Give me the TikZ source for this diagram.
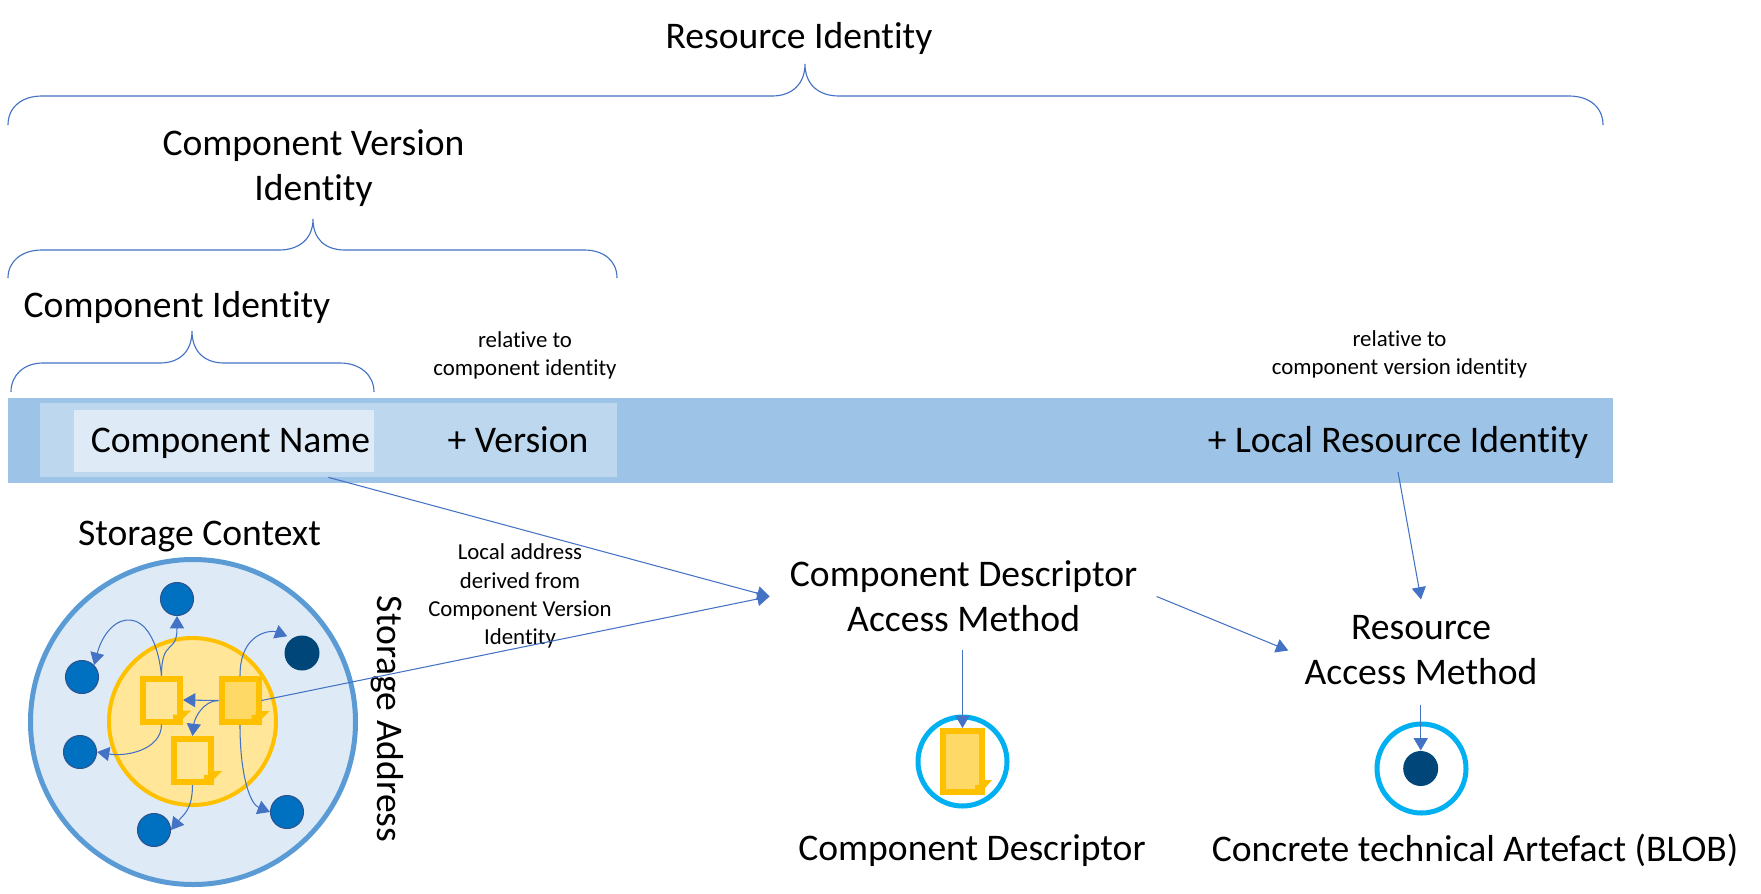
\documentclass[tikz,border=0pt]{standalone}
\usepackage{fontspec}
\setmainfont{Carlito}[Ligatures=NoCommon]
\usetikzlibrary{arrows.meta}

\newcommand{\unitpx}{0.02cm}
\definecolor{barblue}{HTML}{9DC3E6}
\definecolor{midblue}{HTML}{BDD7EE}
\definecolor{paleblue}{HTML}{DEEBF7}
\definecolor{ringblue}{HTML}{5B9BD5}
\definecolor{lineblue}{HTML}{4472C4}
\definecolor{cyanring}{HTML}{00B0F0}
\definecolor{dotblue}{HTML}{0070C0}
\definecolor{dotedge}{HTML}{2F528F}
\definecolor{dotdeep}{HTML}{004679}
\definecolor{docline}{HTML}{FFC000}
\definecolor{docpale}{HTML}{FFE699}
\definecolor{docdeep}{HTML}{FFD966}

\tikzset{
  bigtext/.style={inner sep=0pt, align=center, font=\fontsize{21.4pt}{25.6pt}\selectfont},
  smalltext/.style={inner sep=0pt, align=center, font=\fontsize{13pt}{16pt}\selectfont},
  brace/.style={draw=lineblue, line width=0.65pt},
  flow/.style={draw=lineblue, line width=0.6pt, -{Triangle[length=7pt,width=8pt]}},
  band/.style={rectangle, inner sep=0pt},
  dot/.style={circle, inner sep=0pt, minimum size=33*\unitpx, fill=dotblue, draw=dotedge, line width=0.6pt},
  sheet/.style={rectangle, inner sep=0pt, draw=docline, line width=6*\unitpx, fill=docpale, minimum width=37*\unitpx, minimum height=43*\unitpx},
  halo/.style={circle, inner sep=0pt, draw=cyanring, line width=5*\unitpx, minimum size=89*\unitpx}
}

\begin{document}
\begin{tikzpicture}[x=0.02cm, y=-0.02cm]
\useasboundingbox (0,0) rectangle (1761,893);

% Drawing braces
\draw[brace] (8,125) .. controls (8,107) and (22,96) .. (42,96) -- (772,96) .. controls (792,96) and (805,84) .. (805,64) .. controls (805,84) and (818,96) .. (839,96) -- (1569,96) .. controls (1589,96) and (1603,107) .. (1603,125);
\draw[brace] (8,278) .. controls (8,261) and (22,250) .. (42,250) -- (279,250) .. controls (299,250) and (313,239) .. (313,219) .. controls (313,239) and (325,250) .. (345,250) -- (584,250) .. controls (604,250) and (617,261) .. (617,278);
\draw[brace] (11,392) .. controls (11,375) and (24,363) .. (43,363) -- (160,363) .. controls (179,363) and (192,352) .. (192,331) .. controls (192,352) and (205,363) .. (224,363) -- (340,363) .. controls (360,363) and (374,375) .. (374,392);

% Drawing labels over the braces
\node[bigtext] (residlabel) at (799,38) {Resource Identity};
\node[bigtext] (verlabel) at (313.5,168.4) {Component Version\\Identity};
\node[bigtext] (complabel) at (177,307.5) {Component Identity};
\node[smalltext] (relcomp) at (525,355) {relative to\\component identity};
\node[smalltext] (relver) at (1399.5,354) {relative to\\component version identity};

% Drawing identity bar
\node[band, fill=barblue, minimum width=1605*\unitpx, minimum height=85*\unitpx] (bar) at (810.5,440.5) {};
\node[band, fill=midblue, minimum width=577*\unitpx, minimum height=74*\unitpx] (midbox) at (328.5,440) {};
\node[band, fill=paleblue, minimum width=300*\unitpx, minimum height=62*\unitpx] (namebox) at (224,441) {};
\node[bigtext] (nametext) at (230.5,443.5) {Component Name};
\node[bigtext] (versiontext) at (518,440) {+ Version};
\node[bigtext, inner sep=13*\unitpx] (localtext) at (1398,442.5) {+ Local Resource Identity};

% Drawing storage context
\node[bigtext] (storelabel) at (199.5,536.4) {Storage Context};
\node[bigtext, rotate=-90] (addrlabel) at (387,719) {Storage Address};
\node[circle, inner sep=0pt, fill=paleblue, draw=ringblue, line width=5*\unitpx, minimum size=325*\unitpx] (outerring) at (193,722) {};
\node[circle, inner sep=0pt, fill=docpale, draw=docline, line width=4*\unitpx, minimum size=167*\unitpx] (innerring) at (192.5,721.5) {};

% Drawing artefact dots
\node[dot] (dottop) at (177,599) {};
\node[dot] (dotleft) at (82,677) {};
\node[dot] (dotlow) at (80,752) {};
\node[dot] (dotbot) at (154,830) {};
\node[dot] (dotright) at (287,812) {};
\node[dot, fill=dotdeep, draw=none, minimum size=35*\unitpx] (dotdark) at (302,653) {};

% Drawing documents
\node[sheet] (doca) at (161.5,700) {};
\node[sheet, fill=docdeep] (docb) at (240,700.5) {};
\node[sheet] (docc) at (192.5,760.5) {};
\fill[docline] ([shift={(-10,-5)}]doca.south east) -- ([shift={(-10,-10)}]doca.south east) -- ([shift={(-6,-10)}]doca.south east) -- ([shift={(-6,-14)}]doca.south east) -- ([shift={(8,-14)}]doca.south east) -- ([shift={(-6,0)}]doca.south east) -- cycle;
\fill[docline] ([shift={(-10,-5)}]docb.south east) -- ([shift={(-10,-10)}]docb.south east) -- ([shift={(-6,-10)}]docb.south east) -- ([shift={(-6,-14)}]docb.south east) -- ([shift={(8,-14)}]docb.south east) -- ([shift={(-6,0)}]docb.south east) -- cycle;
\fill[docline] ([shift={(-10,-5)}]docc.south east) -- ([shift={(-10,-10)}]docc.south east) -- ([shift={(-6,-10)}]docc.south east) -- ([shift={(-6,-14)}]docc.south east) -- ([shift={(8,-14)}]docc.south east) -- ([shift={(-6,0)}]docc.south east) -- cycle;

% Drawing arrows inside the context
\draw[flow] (doca.north) .. controls +(-8,-75) and +(15,-55) .. (dotleft.north east);
\draw[flow] (doca.north) .. controls +(0,-38) and +(0,39) .. (dottop.south);
\draw[flow] (docb.north) .. controls +(0,-45) and +(-15,-6) .. ([shift={(-2,-4)}]dotdark.north west);
\draw[flow] (docb.west) -- (doca.east);
\draw[flow] (docb.west) .. controls +(-15,0) and +(2,-18) .. (docc.north);
\draw[flow] (doca.south) .. controls +(0,25) and +(30,5) .. (dotlow.east);
\draw[flow] (docb.south) .. controls +(0,50) and +(-20,-8) .. (dotright.west);
\draw[flow] (docc.south) .. controls +(0,25) and +(12,-15) .. (dotbot.east);

% Drawing access methods
\node[smalltext] (localaddr) at (520,596) {Local address\\derived from\\Component Version\\Identity};
\node[bigtext, inner xsep=20*\unitpx, inner ysep=18*\unitpx] (cdam) at (963.6,596.5) {Component Descriptor\\Access Method};
\node[bigtext, inner sep=16*\unitpx] (ram) at (1421,650.5) {Resource\\Access Method};

% Drawing descriptor and artefact
\node[halo] (cdring) at (962.5,761.5) {};
\node[sheet, fill=docdeep, minimum width=39*\unitpx, minimum height=61*\unitpx] (cddoc) at (962.5,761.5) {};
\fill[docline] ([shift={(-10,-5)}]cddoc.south east) -- ([shift={(-10,-10)}]cddoc.south east) -- ([shift={(-6,-10)}]cddoc.south east) -- ([shift={(-6,-15)}]cddoc.south east) -- ([shift={(7,-15)}]cddoc.south east) -- ([shift={(-6,0)}]cddoc.south east) -- cycle;
\node[halo] (blobring) at (1421.5,768.5) {};
\node[dot, fill=dotdeep, draw=none, minimum size=35*\unitpx] (blobdot) at (1420.7,768.5) {};
\node[bigtext] (cdlabel) at (972,851) {Component Descriptor};
\node[bigtext] (bloblabel) at (1475,850) {Concrete technical Artefact (BLOB)};

% Drawing long arrows
\draw[flow] ([shift={(-46,5)}]namebox.south east) -- (cdam.west);
\draw[flow] (docb.east) -- (cdam.west);
\draw[flow] (localtext.south) -- (ram.north);
\draw[flow] ([xshift=-1*\unitpx]cdam.east) -- (ram.west);
\draw[flow] (cdam.south -| cddoc.north) -- (cddoc.north);
\draw[flow] ([yshift=-3*\unitpx]ram.south -| blobdot.north) -- (blobdot.north);
\end{tikzpicture}
\end{document}
